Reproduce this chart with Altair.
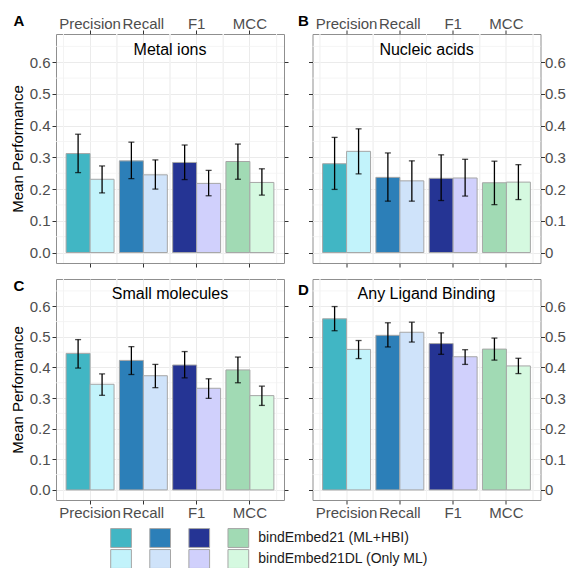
import altair as alt
import pandas as pd

PANELS = ["Metal ions", "Nucleic acids", "Small molecules", "Any Ligand Binding"]
LETTERS = ["A", "B", "C", "D"]
METRICS = ["Precision", "Recall", "F1", "MCC"]
MODELS = ["bindEmbed21 (ML+HBI)", "bindEmbed21DL (Only ML)"]

# Mean performance (Precision, Recall, F1, MCC) and error-bar limits
METAL_HBI = [0.312, 0.289, 0.284, 0.287]
METAL_HBI_LO = [0.252, 0.233, 0.230, 0.231]
METAL_HBI_HI = [0.373, 0.348, 0.339, 0.342]
METAL_DL = [0.231, 0.245, 0.218, 0.221]
METAL_DL_LO = [0.188, 0.200, 0.179, 0.181]
METAL_DL_HI = [0.273, 0.292, 0.259, 0.264]

NUCL_HBI = [0.280, 0.237, 0.234, 0.220]
NUCL_HBI_LO = [0.199, 0.162, 0.164, 0.151]
NUCL_HBI_HI = [0.363, 0.314, 0.308, 0.288]
NUCL_DL = [0.319, 0.226, 0.235, 0.222]
NUCL_DL_LO = [0.248, 0.162, 0.178, 0.167]
NUCL_DL_HI = [0.390, 0.289, 0.294, 0.277]

SMALL_HBI = [0.446, 0.423, 0.408, 0.392]
SMALL_HBI_LO = [0.398, 0.377, 0.366, 0.350]
SMALL_HBI_HI = [0.491, 0.468, 0.452, 0.434]
SMALL_DL = [0.345, 0.373, 0.332, 0.308]
SMALL_DL_LO = [0.309, 0.334, 0.299, 0.276]
SMALL_DL_HI = [0.379, 0.410, 0.363, 0.339]

ANY_HBI = [0.559, 0.505, 0.478, 0.460]
ANY_HBI_LO = [0.520, 0.467, 0.443, 0.424]
ANY_HBI_HI = [0.599, 0.546, 0.513, 0.496]
ANY_DL = [0.459, 0.515, 0.435, 0.405]
ANY_DL_LO = [0.429, 0.483, 0.410, 0.380]
ANY_DL_HI = [0.488, 0.548, 0.458, 0.430]

DARK = ["#41B6C4", "#2C7FB8", "#253494", "#A1DAB4"]
LIGHT = ["#C2F3FB", "#CFE3FA", "#D0D0FC", "#D5F9E0"]

Y_TICKS = [0, 0.1, 0.2, 0.3, 0.4, 0.5, 0.6]
Y_MINOR = [0.05, 0.15, 0.25, 0.35, 0.45, 0.55, 0.65]

SERIES = {
    "Metal ions": [(METAL_HBI, METAL_HBI_LO, METAL_HBI_HI), (METAL_DL, METAL_DL_LO, METAL_DL_HI)],
    "Nucleic acids": [(NUCL_HBI, NUCL_HBI_LO, NUCL_HBI_HI), (NUCL_DL, NUCL_DL_LO, NUCL_DL_HI)],
    "Small molecules": [(SMALL_HBI, SMALL_HBI_LO, SMALL_HBI_HI), (SMALL_DL, SMALL_DL_LO, SMALL_DL_HI)],
    "Any Ligand Binding": [(ANY_HBI, ANY_HBI_LO, ANY_HBI_HI), (ANY_DL, ANY_DL_LO, ANY_DL_HI)],
}

rows = []
for p in PANELS:
    for mi, (mean, lo, hi) in enumerate(SERIES[p]):
        for k, met in enumerate(METRICS):
            rows.append({"panel": p, "metric": met, "model": MODELS[mi],
                         "key": f"{met}|{mi}", "mean": mean[k], "lo": lo[k], "hi": hi[k]})
df = pd.DataFrame(rows)

KEYS = [f"{m}|0" for m in METRICS] + [f"{m}|1" for m in METRICS]
COLS = DARK + LIGHT
fill_scale = alt.Scale(domain=KEYS, range=COLS)

FONT = "Liberation Sans"
W = 228
HEIGHTS = [229, 221]
YDOM = [-0.033, 0.689]
MINOR_COL = "#F3F3F3"

LETTER_POS = {0: (-37, -8), 1: (-9, -8), 2: (-37, 12), 3: (-9, 16)}


def panel(i):
    row, col = divmod(i, 2)
    name = PANELS[i]
    d = df[df.panel == name]
    H = HEIGHTS[row]
    xscale = alt.Scale(domain=METRICS, paddingInner=0, paddingOuter=0.14)
    yscale = alt.Scale(domain=YDOM, nice=False, zero=False)
    xo = alt.XOffset("model:N", scale=alt.Scale(domain=MODELS, paddingInner=0, paddingOuter=0.111))

    x_main = alt.Axis(orient="top" if row == 0 else "bottom", title=None, labelAngle=0,
                      bandPosition=0.5, grid=True, ticks=True, domain=False,
                      labelPadding=-1 if row == 0 else 1)
    x_sec = alt.Axis(orient="bottom", title=None, labels=False, bandPosition=0.5,
                     grid=False, ticks=True, domain=False)
    y_main = alt.Axis(orient="left" if col == 0 else "right",
                      title="Mean Performance" if col == 0 else None,
                      values=Y_TICKS, format=".1f" if col == 0 else "~g",
                      grid=True, ticks=True, domain=False,
                      labelPadding=2 if col == 0 else 0, titlePadding=4)
    y_sec = alt.Axis(orient="right" if col == 0 else "left", title=None, labels=False,
                     values=Y_TICKS, grid=False, ticks=True, domain=False)

    base = alt.Chart(d)
    gx0 = base.mark_rule(color=MINOR_COL, strokeWidth=0.8).encode(
        x=alt.X("metric:N", bandPosition=0, scale=xscale, axis=None))
    gx1 = base.mark_rule(color=MINOR_COL, strokeWidth=0.8).encode(
        x=alt.X("metric:N", bandPosition=1, scale=xscale, axis=None))
    gy = alt.Chart(pd.DataFrame({"v": Y_MINOR})).mark_rule(color=MINOR_COL, strokeWidth=0.8).encode(
        y=alt.Y("v:Q", scale=yscale, axis=None))
    bars = base.mark_bar(stroke="#A6A6A6", strokeWidth=1).encode(
        x=alt.X("metric:N", scale=xscale, axis=x_main, sort=METRICS),
        xOffset=xo,
        y=alt.Y("mean:Q", scale=yscale, axis=y_main),
        fill=alt.Fill("key:N", scale=fill_scale, legend=None),
    )
    err = base.mark_rule(color="black", strokeWidth=1.3).encode(
        x=alt.X("metric:N", scale=xscale, axis=x_sec if row == 0 else None),
        xOffset=xo,
        y=alt.Y("lo:Q", scale=yscale, axis=y_sec),
        y2="hi:Q",
    )
    cap_lo = base.mark_tick(color="black", size=6, thickness=1.3).encode(
        x=alt.X("metric:N", scale=xscale, axis=None), xOffset=xo,
        y=alt.Y("lo:Q", scale=yscale, axis=None))
    cap_hi = base.mark_tick(color="black", size=6, thickness=1.3).encode(
        x=alt.X("metric:N", scale=xscale, axis=None), xOffset=xo,
        y=alt.Y("hi:Q", scale=yscale, axis=None))
    ttl = alt.Chart(pd.DataFrame({"t": [name], "y": [0.64]})).mark_text(
        fontSize=16, font=FONT, color="black", baseline="middle", align="center").encode(
        x=alt.value(W / 2), y=alt.Y("y:Q", scale=yscale, axis=None), text="t:N")
    lx, ly = LETTER_POS[i]
    let = alt.Chart(pd.DataFrame({"t": [LETTERS[i]]})).mark_text(
        fontSize=15, font=FONT, fontWeight="bold", color="black",
        baseline="alphabetic", align="center").encode(
        x=alt.value(lx), y=alt.value(ly), text="t:N")
    return alt.layer(gx0, gx1, gy, bars, err, cap_lo, cap_hi, ttl, let).resolve_axis(
        x="independent", y="independent").properties(width=W, height=H)


LEG_H = 54
leg_df = pd.DataFrame([{"metric": m, "model": MODELS[mi], "key": f"{m}|{mi}"}
                       for mi in range(2) for m in METRICS])
lab_df = pd.DataFrame({"model": MODELS})
leg_y = alt.Scale(domain=MODELS, range=[11.5, 53.5], paddingInner=0.1, paddingOuter=0.05)
leg_rect = alt.Chart(leg_df).mark_rect(stroke="#A6A6A6", strokeWidth=1).encode(
    x=alt.X("metric:N", sort=METRICS,
            scale=alt.Scale(domain=METRICS, range=[54.7, 192.7], paddingInner=0.47, paddingOuter=0),
            axis=None),
    y=alt.Y("model:N", scale=leg_y, axis=None),
    fill=alt.Fill("key:N", scale=fill_scale, legend=None),
)
leg_txt = alt.Chart(lab_df).mark_text(fontSize=14, font=FONT, color="#1A1A1A",
                                      align="left", baseline="middle").encode(
    x=alt.value(202.3), y=alt.Y("model:N", scale=leg_y, axis=None), text="model:N")
legend = alt.layer(leg_rect, leg_txt).properties(
    width=W, height=LEG_H, view=alt.ViewBackground(stroke="transparent"))

PAD_L, PAD_T = 48, 26
SVG_W, SVG_H = 558, 566

chart = alt.concat(panel(0), panel(1), panel(2), panel(3), legend, columns=2,
                   spacing={"row": 16, "column": 28.5}, bounds="flush").properties(
    autosize=alt.AutoSizeParams(type="none"),
    padding={"left": PAD_L, "top": PAD_T, "right": SVG_W - PAD_L, "bottom": SVG_H - PAD_T},
    background="white",
).configure_view(stroke="#8F8F8F", strokeWidth=1).configure_axis(
    labelFont=FONT, labelFontSize=15, labelColor="#4D4D4D",
    tickColor="#333333", tickSize=4, tickWidth=1,
    gridColor="#EBEBEB", gridWidth=1,
    titleFont=FONT, titleFontSize=15, titleColor="black", titleFontWeight="normal",
).configure_text(font=FONT)

chart.save("out.html", embed_options={"renderer": "svg", "actions": False})
